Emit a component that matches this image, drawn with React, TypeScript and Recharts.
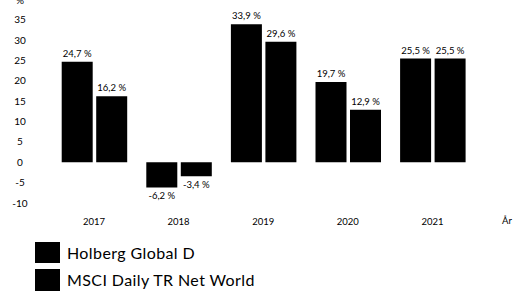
import React, { useLayoutEffect } from 'react';
import { BarChart, Bar, XAxis, YAxis, LabelList } from 'recharts';

const years = ['2017', '2018', '2019', '2020', '2021'];
const holberg = [24.7, -6.2, 33.9, 19.7, 25.5];
const msci = [16.2, -3.4, 29.6, 12.9, 25.5];
const yTicks = [-10, -5, 0, 5, 10, 15, 20, 25, 30, 35];
const seriesNames = ['Holberg Global D', 'MSCI Daily TR Net World'];

const data = years.map((year, i) => ({ year, holberg: holberg[i], msci: msci[i] }));

const FONT = 'Lato, "Noto Sans", sans-serif';

function fmt(v: number) {
  return `${v.toFixed(1).replace('.', ',')} %`;
}

function ValueLabel(props: any) {
  const { x, y, width, height, value } = props;
  const top = Math.min(y, y + height);
  const bottom = Math.max(y, y + height);
  const cx = x + width / 2;
  const ty = value >= 0 ? top - 5 : bottom + 11.5;
  return (
    <text x={cx} y={ty} textAnchor="middle" fontSize={9.5} fill="#000" fontFamily={FONT}>
      {fmt(value)}
    </text>
  );
}

function YTick({ y, payload }: any) {
  return (
    <text x={20} y={y} dy={3.5} textAnchor="middle" fontSize={10} fill="#000" fontFamily={FONT}>
      {payload.value}
    </text>
  );
}

function XTick({ x, payload }: any) {
  return (
    <text x={x} y={225} textAnchor="middle" fontSize={9.5} fill="#000" fontFamily={FONT}>
      {payload.value}
    </text>
  );
}

export default function App() {
  useLayoutEffect(() => {
    document.body.style.margin = '0';
  }, []);

  return (
    <div style={{ width: 517, height: 293, background: '#fff', position: 'relative' }}>
      <BarChart
        width={517}
        height={293}
        data={data}
        margin={{ top: 11.7, right: 42.3, bottom: 80, left: 0 }}
        barCategoryGap={10}
        barGap={3.5}
      >
        <XAxis dataKey="year" axisLine={false} tickLine={false} tick={<XTick />} height={10} />
        <YAxis
          domain={[-10, 37]}
          ticks={yTicks}
          axisLine={false}
          tickLine={false}
          width={51.7}
          tick={<YTick />}
          interval={0}
          allowDataOverflow
        />
        <Bar dataKey="holberg" name={seriesNames[0]} fill="#000" isAnimationActive={false}>
          <LabelList dataKey="holberg" content={<ValueLabel />} />
        </Bar>
        <Bar dataKey="msci" name={seriesNames[1]} fill="#000" isAnimationActive={false}>
          <LabelList dataKey="msci" content={<ValueLabel />} />
        </Bar>
        <text x={507} y={224} textAnchor="middle" fontSize={9.5} fill="#000" fontFamily={FONT}>
          År
        </text>
        <text x={20} y={4} textAnchor="middle" fontSize={10} fill="#000" fontFamily={FONT}>
          %
        </text>
      </BarChart>
      <div style={{ position: 'absolute', left: 35, top: 238.5, fontFamily: FONT }}>
        {seriesNames.map((name) => (
          <div key={name} style={{ display: 'flex', alignItems: 'center', height: 27.6 }}>
            <div style={{ width: 25, height: 21.6, background: '#000' }} />
            <span style={{ marginLeft: 7, fontSize: 16, letterSpacing: 0.4, color: '#000' }}>{name}</span>
          </div>
        ))}
      </div>
    </div>
  );
}
